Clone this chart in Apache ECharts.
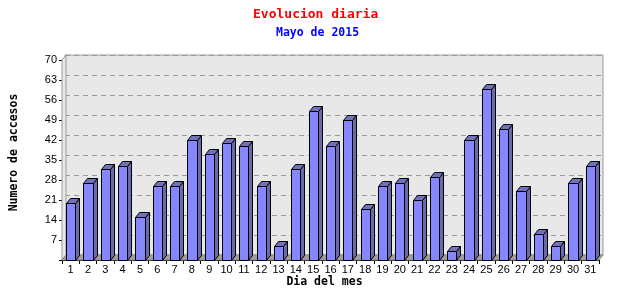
<!DOCTYPE html>
<html>
<head>
<meta charset="utf-8">
<script src="https://cdn.jsdelivr.net/npm/echarts@6/dist/echarts.min.js"></script>
<style>html,body{margin:0;padding:0;background:#fff}#c{width:640px;height:300px}</style>
</head>
<body>
<div id="c"></div>
<script>
const days = ['1','2','3','4','5','6','7','8','9','10','11','12','13','14','15','16','17','18','19','20','21','22','23','24','25','26','27','28','29','30','31'];
const visits = [20,27,32,33,15,26,26,42,37,41,40,26,5,32,52,40,49,18,26,27,21,29,3,42,60,46,24,9,5,27,33];
const titleText = 'Evolucion diaria';
const subtitleText = 'Mayo de 2015';
const yName = 'Numero de accesos';
const xName = 'Dia del mes';

const DX = 4, DY = 5;
const chart = echarts.init(document.getElementById('c'), null, {renderer: 'canvas'});
const mono = 'DejaVu Sans Mono';
const sans = 'Liberation Sans';

chart.setOption({
  animation: false,
  backgroundColor: '#fff',
  title: [
    {text: titleText, left: 248, top: 3, textStyle: {color: '#ff0000', fontFamily: mono, fontWeight: 'bold', fontSize: 13}},
    {text: subtitleText, left: 271, top: 22, textStyle: {color: '#0000ff', fontFamily: mono, fontWeight: 'bold', fontSize: 11.5}}
  ],
  grid: [
    {left: 61 + DX, top: 60 - DY, width: 538, height: 200, show: true, backgroundColor: '#e8e8e8', borderColor: '#999', borderWidth: 1},
    {left: 61, top: 60, width: 538, height: 200}
  ],
  xAxis: [
    {gridIndex: 0, type: 'category', data: days, show: false},
    {gridIndex: 1, type: 'category', data: days,
     name: xName, nameLocation: 'middle', nameGap: 16, nameMoveOverlap: false,
     nameTextStyle: {fontFamily: mono, fontWeight: 'bold', fontSize: 11.5, color: '#000', padding: [0, 12, 0, 0]},
     axisLine: {lineStyle: {color: '#000', width: 1}},
     axisTick: {show: true, length: 4, lineStyle: {color: '#000'}},
     axisLabel: {margin: 4, color: '#000', fontFamily: sans, fontSize: 11},
     splitLine: {show: false}}
  ],
  yAxis: [
    {gridIndex: 0, type: 'value', min: 0, max: 70, interval: 7,
     axisLine: {show: false}, axisTick: {show: false}, axisLabel: {show: false},
     splitLine: {show: true, lineStyle: {color: '#999', type: [5, 4], width: 1}}},
    {gridIndex: 1, type: 'value', min: 0, max: 70, interval: 7,
     name: yName, nameLocation: 'middle', nameGap: 42, nameRotate: 90, nameMoveOverlap: false,
     nameTextStyle: {fontFamily: mono, fontWeight: 'bold', fontSize: 11.5, color: '#000', padding: [0, 0, 0, 15]},
     axisLine: {show: true, lineStyle: {color: '#000', width: 1}},
     axisTick: {show: true, length: 3, lineStyle: {color: '#000'}},
     axisLabel: {margin: 5, color: '#000', fontFamily: sans, fontSize: 11, formatter: v => v === 0 ? '' : String(v)},
     splitLine: {show: false}}
  ],
  series: [
    {
      type: 'custom', xAxisIndex: 1, yAxisIndex: 1, z: 1, silent: true,
      data: [[0, 0]],
      renderItem: function (params, api) {
        const cs = params.coordSys;
        const x = cs.x, y = cs.y, w = cs.width, h = cs.height;
        return {type: 'group', children: [
          {type: 'polygon', shape: {points: [[x, y], [x + DX, y - DY], [x + DX, y + h - DY], [x, y + h]]},
           style: {fill: '#e8e8e8', stroke: '#999', lineWidth: 1}},
          {type: 'polygon', shape: {points: [[x, y + h], [x + w, y + h], [x + w + DX, y + h - DY], [x + DX, y + h - DY]]},
           style: {fill: '#a0a0a0', stroke: '#888', lineWidth: 1}}
        ]};
      }
    },
    {
      type: 'custom', xAxisIndex: 1, yAxisIndex: 1, z: 2, silent: true,
      data: visits.map((v, i) => [i, v]),
      encode: {x: 0, y: 1},
      renderItem: function (params, api) {
        const base = api.coord([api.value(0), 0]);
        const top = api.coord([api.value(0), api.value(1)]);
        const hw = 4.6;
        const l = Math.round(base[0] - hw) + 0.5, r = Math.round(base[0] + hw) + 0.5;
        const b = Math.round(base[1]) + 0.5, t = Math.round(top[1]) + 0.5;
        const stroke = {stroke: '#000', lineWidth: 1};
        return {type: 'group', children: [
          {type: 'polygon', shape: {points: [[r, t], [r + DX, t - DY], [r + DX, b - DY], [r, b]]},
           style: Object.assign({fill: '#6a6aa8'}, stroke)},
          {type: 'polygon', shape: {points: [[l, t], [l + DX, t - DY], [r + DX, t - DY], [r, t]]},
           style: Object.assign({fill: '#7272bc'}, stroke)},
          {type: 'polygon', shape: {points: [[l, t], [r, t], [r, b], [l, b]]},
           style: Object.assign({fill: '#8686ff'}, stroke)}
        ]};
      }
    }
  ]
});
</script>
</body>
</html>
